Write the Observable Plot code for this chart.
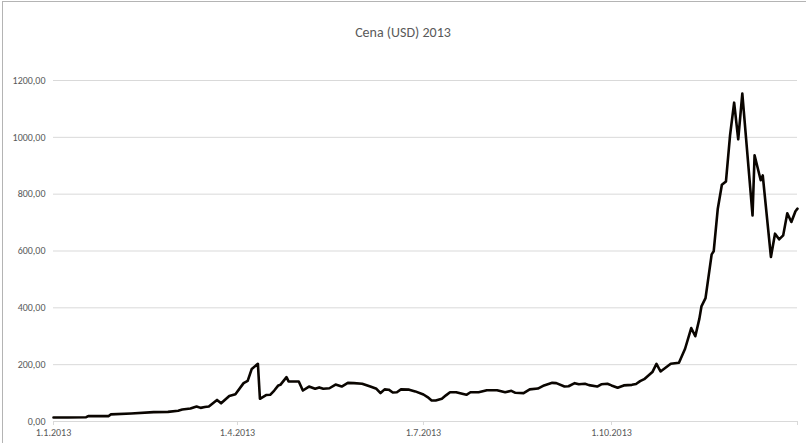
<!DOCTYPE html>
<html>
<head>
<meta charset="utf-8">
<script src="https://cdn.jsdelivr.net/npm/d3@7"></script>
<script src="https://cdn.jsdelivr.net/npm/@observablehq/plot@0.6"></script>
<style>
  html, body { margin: 0; padding: 0; background: white; }
  #wrap { position: relative; width: 806px; height: 443px; overflow: hidden; background: white; }
  #frame { position: absolute; left: 2px; top: 1px; width: 900px; height: 500px; border-left: 1px solid #b4b4b4; border-top: 1px solid #b4b4b4; box-sizing: border-box; }
  #title { position: absolute; left: 0; top: 24px; width: 806px; text-align: center; font-family: Carlito, Calibri, Lato, sans-serif; font-size: 14px; color: #595959; }
  #chart { position: absolute; left: 0; top: 0; }
</style>
</head>
<body>
<div id="wrap">
  <div id="chart"></div>
  <div id="frame"></div>
  <div id="title">Cena (USD) 2013</div>
</div>
<script>
const dates = [
  "2013-01-01","2013-01-08","2013-01-17","2013-01-18","2013-01-28","2013-01-29","2013-02-08","2013-02-19",
  "2013-02-26","2013-03-03","2013-03-05","2013-03-09","2013-03-12","2013-03-14","2013-03-16","2013-03-18",
  "2013-03-22","2013-03-24","2013-03-28","2013-03-31","2013-04-04","2013-04-06","2013-04-08","2013-04-11",
  "2013-04-12","2013-04-15","2013-04-17","2013-04-19","2013-04-21","2013-04-22","2013-04-25","2013-04-26",
  "2013-05-01","2013-05-03","2013-05-06","2013-05-09","2013-05-11","2013-05-13","2013-05-16","2013-05-19",
  "2013-05-22","2013-05-25","2013-05-28","2013-06-01","2013-06-05","2013-06-08","2013-06-10","2013-06-12",
  "2013-06-14","2013-06-16","2013-06-18","2013-06-20","2013-06-24","2013-06-27","2013-07-01","2013-07-03",
  "2013-07-05","2013-07-07","2013-07-10","2013-07-12","2013-07-14","2013-07-17","2013-07-22","2013-07-24",
  "2013-07-28","2013-08-01","2013-08-06","2013-08-10","2013-08-13","2013-08-15","2013-08-19","2013-08-22",
  "2013-08-26","2013-08-29","2013-09-02","2013-09-04","2013-09-08","2013-09-10","2013-09-13","2013-09-15",
  "2013-09-18","2013-09-20","2013-09-24","2013-09-26","2013-09-29","2013-10-01","2013-10-04","2013-10-07",
  "2013-10-11","2013-10-13","2013-10-15","2013-10-17","2013-10-21","2013-10-23","2013-10-25","2013-10-30",
  "2013-11-03","2013-11-06","2013-11-09","2013-11-11","2013-11-13","2013-11-14","2013-11-16","2013-11-19",
  "2013-11-20","2013-11-22","2013-11-24","2013-11-26","2013-11-28","2013-11-30","2013-12-02","2013-12-04",
  "2013-12-09","2013-12-10","2013-12-13","2013-12-14","2013-12-18","2013-12-20","2013-12-22","2013-12-24",
  "2013-12-26","2013-12-28","2013-12-30","2013-12-31"
];
const prices = [
  14, 14, 15, 19, 19, 25, 28, 33,
  34, 38, 42, 46, 53, 48, 51, 53,
  76, 64, 90, 96, 135, 143, 185, 203,
  80, 93, 94, 109, 127, 129, 156, 141,
  141, 109, 123, 115, 120, 115, 117, 130,
  123, 136, 135, 133, 123, 115, 100, 113,
  112, 102, 103, 113, 112, 106, 95, 86,
  74, 74, 80, 92, 103, 103, 94, 103,
  103, 110, 110, 103, 108, 101, 100, 113,
  116, 127, 136, 135, 123, 124, 135, 131,
  133, 128, 123, 131, 133, 127, 119, 127,
  129, 132, 142, 149, 174, 203, 176, 203,
  207, 256, 329, 300, 362, 405, 434, 588,
  599, 749, 833, 845, 1007, 1122, 993, 1154,
  725, 937, 849, 866, 579, 661, 641, 655,
  733, 702, 740, 749
];
const yTicks = [0, 200, 400, 600, 800, 1000, 1200];
const xTickDates = ["2013-01-01", "2013-04-01", "2013-07-01", "2013-10-01", "2013-12-31"];
const xTickLabels = ["1.1.2013", "1.4.2013", "1.7.2013", "1.10.2013", ""];

const data = dates.map((d, i) => ({date: new Date(d), price: prices[i]}));
const xTicks = xTickDates.map(d => new Date(d));
const labelFor = d => {
  const i = xTicks.findIndex(t => +t === +d);
  return i >= 0 ? xTickLabels[i] : "";
};
const fmt = v => v.toFixed(2).replace(".", ",");

const chart = Plot.plot({
  width: 806,
  height: 443,
  marginTop: 80,
  marginBottom: 22,
  marginLeft: 53,
  marginRight: 9,
  style: {fontFamily: "Carlito, Calibri, Lato, sans-serif", fontSize: "10px", background: "white", color: "#595959"},
  x: {type: "utc", domain: [new Date("2013-01-01"), new Date("2013-12-31")], label: null},
  y: {domain: [0, 1200], label: null},
  marks: [
    Plot.gridY(yTicks, {stroke: "#d9d9d9", strokeOpacity: 1, strokeWidth: 1}),
    Plot.ruleY([0], {stroke: "#d9d9d9", strokeWidth: 1}),
    Plot.axisY({ticks: yTicks, tickSize: 0, tickPadding: 8, tickFormat: fmt, fill: "#595959", label: null}),
    Plot.axisX({ticks: xTicks, tickSize: 4, tickPadding: 3, stroke: "#d9d9d9", fill: "#595959", tickFormat: labelFor, label: null}),
    Plot.line(data, {x: "date", y: "price", stroke: "#0a0500", strokeWidth: 2.6, strokeLinejoin: "round"})
  ]
});
document.getElementById("chart").appendChild(chart);
</script>
</body>
</html>
